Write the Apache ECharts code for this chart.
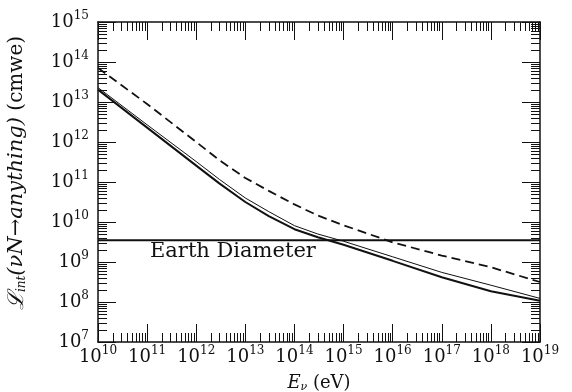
<!DOCTYPE html>
<html>
<head>
<meta charset="utf-8">
<script src="https://cdn.jsdelivr.net/npm/echarts@6/dist/echarts.min.js"></script>
<style>
  html, body { margin: 0; padding: 0; background: #fff; }
  #chart { width: 572px; height: 392px; }
</style>
</head>
<body>
<div id="chart"></div>
<script>
// neutrino energy (eV) sample points
const energies = [1e10, 1e11, 1e12, 3e12, 1e13, 3e13, 1e14, 3e14, 1e15, 1e16, 1e17, 1e18, 1e19];
// interaction length (cmwe)
const lenSolid = [2.04e13, 2.29e12, 2.57e11, 9.1e10, 3.16e10, 1.41e10, 6.6e9, 4.17e9, 2.69e9, 1.07e9, 4.17e8, 1.86e8, 1.07e8];
const lenThin = [2.29e13, 2.69e12, 3.24e11, 1.15e11, 3.98e10, 1.82e10, 8.1e9, 5.0e9, 3.3e9, 1.35e9, 5.5e8, 2.63e8, 1.23e8];
const lenDashed = [7.1e13, 8.9e12, 1.0e12, 3.47e11, 1.26e11, 6.0e10, 2.75e10, 1.45e10, 8.3e9, 3.1e9, 1.45e9, 7.4e8, 3.16e8];
const earthDiameter = 3.5e9;
const earthRange = [1e10, 1e19];

const xDecades = [1e10, 1e11, 1e12, 1e13, 1e14, 1e15, 1e16, 1e17, 1e18, 1e19];
const yDecades = [1e7, 1e8, 1e9, 1e10, 1e11, 1e12, 1e13, 1e14, 1e15];
const minorSteps = [2, 3, 4, 5, 6, 7, 8, 9];

const ink = '#111';
const serif = 'DejaVu Serif';

function minorTicks(decades) {
  const out = [];
  decades.slice(0, -1).forEach(d => minorSteps.forEach(m => out.push(d * m)));
  return out;
}

function powLabel(v) {
  return '{b|10}{s|' + Math.round(Math.log10(v)) + '}';
}

const labelRich = {
  b: { fontFamily: serif, fontSize: 18, color: ink },
  s: { fontFamily: serif, fontSize: 12, color: ink, padding: [0, 0, 13, 0] }
};

function makeAxis(decades, position, major, opts) {
  const ax = {
    type: 'log',
    logBase: 10,
    min: decades[0],
    max: decades[decades.length - 1],
    interval: 1,
    position: position,
    splitLine: { show: false },
    axisLine: { show: major, onZero: false, lineStyle: { color: ink, width: 1.5 } },
    axisTick: {
      show: true,
      inside: true,
      length: major ? 18 : 9,
      lineStyle: { color: ink, width: 1 }
    },
    axisLabel: { show: false },
    nameMoveOverlap: false
  };
  if (!major) ax.axisTick.customValues = minorTicks(decades);
  return Object.assign(ax, opts || {});
}

const chart = echarts.init(document.getElementById('chart'));

const option = {
  animation: false,
  backgroundColor: '#fff',
  grid: { left: 98, right: 32, top: 22, bottom: 50, containLabel: false, outerBoundsMode: 'none' },
  xAxis: [
    makeAxis(xDecades, 'bottom', true, {
      axisLabel: {
        show: true,
        margin: 3,
        showMinLabel: true,
        showMaxLabel: true,
        formatter: powLabel,
        rich: labelRich
      },
      name: '{e|E}{n|ν}{t| (eV)}',
      nameLocation: 'middle',
      nameGap: 32,
      nameTextStyle: {
        rich: {
          e: { fontFamily: serif, fontStyle: 'italic', fontSize: 18, color: ink },
          n: { fontFamily: serif, fontStyle: 'italic', fontSize: 11, color: ink, padding: [8, 0, 0, 0] },
          t: { fontFamily: serif, fontSize: 18, color: ink }
        }
      }
    }),
    makeAxis(xDecades, 'bottom', false),
    makeAxis(xDecades, 'top', true),
    makeAxis(xDecades, 'top', false)
  ],
  yAxis: [
    makeAxis(yDecades, 'left', true, {
      axisLabel: {
        show: true,
        margin: 9,
        showMinLabel: true,
        showMaxLabel: true,
        formatter: powLabel,
        rich: labelRich
      },
      name: '{L|ℒ}{i|int}{t|(νN→anything)}{u| (cmwe)}',
      nameLocation: 'middle',
      nameRotate: 90,
      nameGap: 70,
      nameTextStyle: {
        padding: [0, 0, 0, 18],
        rich: {
          L: { fontFamily: serif, fontStyle: 'italic', fontSize: 22, color: ink },
          i: { fontFamily: serif, fontStyle: 'italic', fontSize: 12, color: ink, padding: [9, 0, 0, 0] },
          t: { fontFamily: serif, fontStyle: 'italic', fontSize: 21, color: ink },
          u: { fontFamily: serif, fontSize: 20, color: ink }
        }
      }
    }),
    makeAxis(yDecades, 'left', false),
    makeAxis(yDecades, 'right', true),
    makeAxis(yDecades, 'right', false)
  ],
  graphic: [
    {
      type: 'text',
      left: 150,
      top: 241,
      style: { text: 'Earth Diameter', fontFamily: serif, fontSize: 21, fill: ink }
    }
  ],
  series: [
    {
      name: 'total',
      type: 'line',
      showSymbol: false,
      data: energies.map((e, i) => [e, lenSolid[i]]),
      lineStyle: { color: ink, width: 2 }
    },
    {
      name: 'thin',
      type: 'line',
      showSymbol: false,
      data: energies.map((e, i) => [e, lenThin[i]]),
      lineStyle: { color: ink, width: 1 }
    },
    {
      name: 'dashed',
      type: 'line',
      showSymbol: false,
      data: energies.map((e, i) => [e, lenDashed[i]]),
      lineStyle: { color: ink, width: 1.8, type: [9, 5] }
    },
    {
      name: 'Earth Diameter',
      type: 'line',
      showSymbol: false,
      data: earthRange.map(e => [e, earthDiameter]),
      lineStyle: { color: ink, width: 2 }
    }
  ]
};

chart.setOption(option);
</script>
</body>
</html>
